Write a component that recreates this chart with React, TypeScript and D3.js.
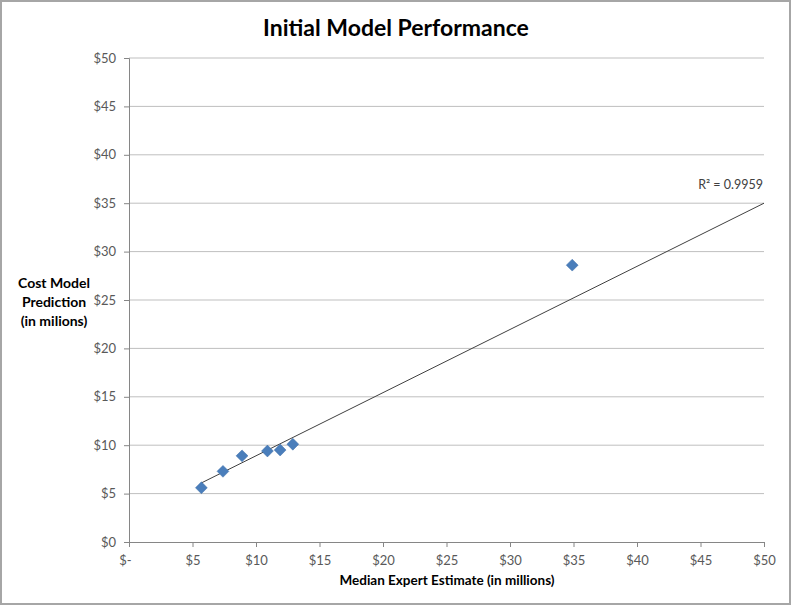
import { useEffect, useRef } from "react";
import * as d3 from "d3";

// Expert estimate vs model prediction, $ millions
const expertEstimate = [5.7, 7.4, 8.9, 10.9, 11.9, 12.9, 34.9];
const modelPrediction = [5.6, 7.3, 8.9, 9.4, 9.5, 10.1, 28.6];
// trendline endpoints as drawn by the spreadsheet
const trendX = [5.7, 50];
const trendY = [6.1, 35];
const rSquaredLabel = "R² = 0.9959";
const tickValues = [0, 5, 10, 15, 20, 25, 30, 35, 40, 45, 50];

const App = () => {
  const svgRef = useRef<SVGSVGElement>(null);

  useEffect(() => {
    document.body.style.margin = "0";
    const W = 793;
    const H = 607;
    const margin = { top: 58, right: 29, bottom: 65, left: 129 };
    const width = W - margin.left - margin.right;
    const height = H - margin.top - margin.bottom;
    const font = "Lato, 'Open Sans', sans-serif";

    d3.select(svgRef.current).selectAll("*").remove();

    const root = d3
      .select(svgRef.current)
      .attr("width", W)
      .attr("height", H)
      .style("display", "block");

    // outer frame
    root
      .append("rect")
      .attr("x", 1)
      .attr("y", 1)
      .attr("width", W - 4)
      .attr("height", H - 4)
      .attr("fill", "white")
      .attr("stroke", "#a6a6a6")
      .attr("stroke-width", 2);

    root
      .append("text")
      .attr("x", 396)
      .attr("y", 36)
      .attr("text-anchor", "middle")
      .attr("font-family", font)
      .attr("font-weight", "bold")
      .attr("font-size", 23)
      .attr("fill", "black")
      .text("Initial Model Performance");

    const svg = root
      .append("g")
      .attr("transform", `translate(${margin.left},${margin.top})`);

    const x = d3.scaleLinear().domain([0, 50]).range([0, width]);
    const y = d3.scaleLinear().domain([0, 50]).range([height, 0]);

    // horizontal gridlines
    svg
      .append("g")
      .selectAll("line")
      .data(tickValues.filter((d) => d > 0))
      .enter()
      .append("line")
      .attr("x1", 0)
      .attr("x2", width)
      .attr("y1", (d) => y(d))
      .attr("y2", (d) => y(d))
      .attr("stroke", "#bfbfbf")
      .attr("stroke-width", 1);

    const dollar = (d: number) => `$${d}`;

    // Y axis
    const yAxis = svg
      .append("g")
      .call(d3.axisLeft(y).tickValues(tickValues).tickSize(5).tickPadding(8).tickFormat((d) => dollar(+d)));
    yAxis.select(".domain").attr("stroke", "#868686");
    yAxis.selectAll(".tick line").attr("stroke", "#868686");
    yAxis
      .selectAll("text")
      .attr("fill", "#595959")
      .attr("font-family", font)
      .attr("font-size", 13);

    // X axis
    const xAxis = svg
      .append("g")
      .attr("transform", `translate(0, ${height})`)
      .call(
        d3
          .axisBottom(x)
          .tickValues(tickValues)
          .tickSize(5)
          .tickPadding(9)
          .tickFormat((d) => (+d === 0 ? "$-" : dollar(+d)))
      );
    xAxis.select(".domain").attr("stroke", "#868686");
    xAxis.selectAll(".tick line").attr("stroke", "#868686");
    xAxis
      .selectAll("text")
      .attr("fill", "#595959")
      .attr("font-family", font)
      .attr("font-size", 13);
    xAxis
      .selectAll<SVGTextElement, number>("text")
      .filter((d) => d === 0)
      .attr("dx", -4);

    // trendline
    const line = d3
      .line<number>()
      .x((d) => x(d))
      .y((_, i) => y(trendY[i]));
    svg
      .append("path")
      .datum(trendX)
      .attr("fill", "none")
      .attr("stroke", "#404040")
      .attr("stroke-width", 1)
      .attr("d", line);

    svg
      .append("text")
      .attr("x", width - 1)
      .attr("y", y(trendY[1]) - 14)
      .attr("text-anchor", "end")
      .attr("font-family", font)
      .attr("font-size", 12.5)
      .attr("fill", "#404040")
      .text(rSquaredLabel);

    // markers
    svg
      .selectAll(".pt")
      .data(expertEstimate)
      .enter()
      .append("path")
      .attr("class", "pt")
      .attr("transform", (d, i) => `translate(${x(d)},${y(modelPrediction[i])})`)
      .attr("d", d3.symbol().type(d3.symbolDiamond2).size(90)())
      .attr("fill", "#4a7ebb")
      .attr("stroke", "#3f6fa8")
      .attr("stroke-width", 0.5);

    // axis titles
    root
      .append("text")
      .attr("x", 447)
      .attr("y", 585)
      .attr("text-anchor", "middle")
      .attr("font-family", font)
      .attr("font-weight", "bold")
      .attr("font-size", 13.5)
      .attr("fill", "black")
      .text("Median Expert Estimate (in millions)");

    const yTitle = root
      .append("text")
      .attr("text-anchor", "middle")
      .attr("font-family", font)
      .attr("font-weight", "bold")
      .attr("font-size", 14)
      .attr("fill", "black");
    ["Cost Model", "Prediction", "(in milions)"].forEach((t, i) => {
      yTitle
        .append("tspan")
        .attr("x", 54)
        .attr("y", 288 + i * 19)
        .text(t);
    });
  }, []);

  return <svg ref={svgRef}></svg>;
};

export default App;
